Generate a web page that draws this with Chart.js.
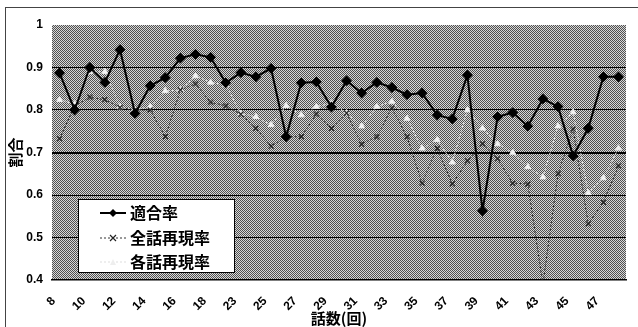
<!DOCTYPE html>
<html>
<head>
<meta charset="utf-8">
<script src="https://cdn.jsdelivr.net/npm/chart.js"></script>
<style>
  html, body { margin: 0; padding: 0; background: #fff; }
  #wrap { width: 638px; height: 327px; position: relative; }
</style>
</head>
<body>
<div id="wrap"><canvas id="rateChart" width="638" height="327"></canvas></div>
<script>
// 話数 (index 11 label is hidden in the source, value guessed)
const episodes = ['8','9','10','11','12','13','14','15','16','17','18','20',
  '23','24','25','26','27','28','29','30','31','32','33','34','35','36',
  '37','38','39','40','41','42','43','44','45','46','47','48'];

// 適合率
const precision = [0.887,0.800,0.900,0.865,0.942,0.792,0.857,0.876,0.922,0.931,0.924,0.864,
  0.888,0.878,0.898,0.737,0.864,0.866,0.807,0.869,0.840,0.865,0.853,0.836,0.840,0.788,
  0.779,0.882,0.563,0.784,0.794,0.762,0.826,0.808,0.692,0.757,0.878,0.878];

// 全話再現率
const recallAll = [0.732,0.810,0.830,0.824,0.806,0.800,0.800,0.737,0.847,0.862,0.818,0.810,
  0.790,0.757,0.715,0.737,0.737,0.790,0.757,0.793,0.720,0.737,0.805,0.737,0.628,0.710,
  0.626,0.680,0.720,0.685,0.628,0.626,0.390,0.650,0.755,0.532,0.583,0.668];

// 各話再現率
const recallEach = [0.824,0.814,0.890,0.890,0.807,0.800,0.808,0.845,0.847,0.880,0.865,0.859,
  0.792,0.784,0.765,0.810,0.788,0.808,0.816,0.793,0.762,0.808,0.820,0.780,0.710,0.730,
  0.677,0.800,0.757,0.720,0.700,0.666,0.642,0.762,0.795,0.605,0.640,0.710];

const yTicks = [0.4, 0.5, 0.6, 0.7, 0.8, 0.9, 1];
const seriesNames = ['適合率', '全話再現率', '各話再現率'];

const numFont = { family: '"Liberation Sans", Arial, sans-serif', weight: 'bold' };
const jpFont = '"Noto Sans CJK JP", sans-serif';

// halftone-like fill for the plot area
function makePattern(ctx) {
  const c = document.createElement('canvas');
  c.width = 2; c.height = 2;
  const p = c.getContext('2d');
  p.fillStyle = '#d8d8d8'; p.fillRect(0, 0, 2, 2);
  p.fillStyle = '#505050'; p.fillRect(0, 0, 1, 1); p.fillRect(1, 1, 1, 1);
  return ctx.createPattern(c, 'repeat');
}

const backgroundPlugin = {
  id: 'plotBackground',
  beforeDraw(chart) {
    const { ctx, chartArea: a } = chart;
    ctx.save();
    ctx.fillStyle = '#fff';
    ctx.fillRect(0, 0, chart.width, chart.height);
    ctx.strokeStyle = '#444';
    ctx.lineWidth = 1;
    ctx.strokeRect(5.5, 7.5, chart.width + 10, chart.height + 10);
    ctx.fillStyle = makePattern(ctx);
    ctx.fillRect(a.left, a.top, a.right - a.left, a.bottom - a.top);
    ctx.restore();
  }
};

function drawMarker(ctx, kind, x, y) {
  ctx.beginPath();
  if (kind === 0) {
    ctx.fillStyle = '#000';
    ctx.moveTo(x, y - 4); ctx.lineTo(x + 4, y); ctx.lineTo(x, y + 4); ctx.lineTo(x - 4, y);
    ctx.closePath(); ctx.fill();
  } else if (kind === 1) {
    ctx.strokeStyle = '#222'; ctx.lineWidth = 1.2; ctx.setLineDash([]);
    ctx.moveTo(x - 3, y - 3); ctx.lineTo(x + 3, y + 3);
    ctx.moveTo(x + 3, y - 3); ctx.lineTo(x - 3, y + 3);
    ctx.stroke();
  } else {
    ctx.fillStyle = '#eee';
    ctx.moveTo(x, y - 3); ctx.lineTo(x + 3, y + 3); ctx.lineTo(x - 3, y + 3);
    ctx.closePath(); ctx.fill();
  }
}

const legendPlugin = {
  id: 'boxLegend',
  afterDraw(chart) {
    const ctx = chart.ctx;
    const box = { x: 78, y: 199, w: 156, h: 73 };
    ctx.save();
    ctx.fillStyle = '#fff';
    ctx.fillRect(box.x, box.y, box.w, box.h);
    ctx.strokeStyle = '#000';
    ctx.lineWidth = 1;
    ctx.strokeRect(box.x + 0.5, box.y + 0.5, box.w, box.h);
    const rows = [213, 238, 262];
    const styles = [
      { color: '#000', width: 2, dash: [] },
      { color: '#333', width: 1, dash: [2, 2] },
      { color: '#ddd', width: 1, dash: [2, 2] }
    ];
    seriesNames.forEach((name, i) => {
      const y = rows[i];
      ctx.beginPath();
      ctx.strokeStyle = styles[i].color;
      ctx.lineWidth = styles[i].width;
      ctx.setLineDash(styles[i].dash);
      ctx.moveTo(100, y); ctx.lineTo(126, y);
      ctx.stroke();
      ctx.setLineDash([]);
      drawMarker(ctx, i, 113, y);
      ctx.fillStyle = '#000';
      ctx.font = 'bold 16px ' + jpFont;
      ctx.textBaseline = 'middle';
      ctx.fillText(name, 130, y);
    });
    ctx.restore();
  }
};

function drawChart() {
  const ctx = document.getElementById('rateChart').getContext('2d');
  new Chart(ctx, {
    type: 'line',
    data: {
      labels: episodes,
      datasets: [
        {
          label: seriesNames[0],
          data: precision,
          borderColor: '#000',
          backgroundColor: '#000',
          borderWidth: 2,
          pointStyle: 'rectRot',
          pointRadius: 4,
          tension: 0
        },
        {
          label: seriesNames[1],
          data: recallAll,
          borderColor: '#2a2a2a',
          backgroundColor: '#2a2a2a',
          borderWidth: 1,
          borderDash: [2, 2],
          pointStyle: 'crossRot',
          pointRadius: 3.5,
          pointBorderWidth: 1.3,
          tension: 0
        },
        {
          label: seriesNames[2],
          data: recallEach,
          borderColor: '#e8e8e8',
          backgroundColor: '#f4f4f4',
          borderWidth: 1,
          borderDash: [2, 2],
          pointStyle: 'triangle',
          pointRadius: 3.5,
          tension: 0
        }
      ]
    },
    options: {
      responsive: false,
      animation: false,
      layout: { padding: { top: 25, right: 12, left: 0, bottom: 0 } },
      plugins: {
        legend: { display: false },
        tooltip: { enabled: false }
      },
      scales: {
        x: {
          offset: true,
          grid: { display: false },
          border: { display: true, color: '#000', width: 1.5 },
          ticks: {
            autoSkip: false,
            minRotation: 45,
            maxRotation: 45,
            padding: 6,
            labelOffset: -6,
            color: '#000',
            font: { ...numFont, size: 12 },
            callback: function (v, i) { return i % 2 === 0 ? episodes[i] : ''; }
          },
          title: {
            display: true,
            text: '話数(回)',
            color: '#000',
            font: { family: jpFont, weight: 'bold', size: 15 },
            padding: { top: 0, bottom: 0 }
          },
          afterFit: (scale) => { scale.height = 47; }
        },
        y: {
          min: yTicks[0],
          max: yTicks[yTicks.length - 1],
          afterBuildTicks: (scale) => { scale.ticks = yTicks.map(v => ({ value: v })); },
          grid: {
            drawTicks: false,
            color: (c) => (c.tick && c.tick.value > 0.45 && c.tick.value < 0.95) ? '#000' : 'rgba(0,0,0,0)',
            lineWidth: (c) => (c.tick && Math.abs(c.tick.value - 0.7) < 0.01) ? 2 : 1
          },
          border: { display: false },
          ticks: {
            padding: 9,
            color: '#000',
            font: { ...numFont, size: 12 },
            callback: (v) => (Math.round(v * 10) / 10).toString()
          },
          title: {
            display: true,
            text: '割合',
            color: '#000',
            font: { family: jpFont, weight: 'bold', size: 15 },
            padding: { top: 6 }
          },
          afterFit: (scale) => { scale.width = 52; }
        }
      }
    },
    plugins: [backgroundPlugin, legendPlugin]
  });
}

window.onload = function () {
  drawChart();
};
</script>
</body>
</html>
